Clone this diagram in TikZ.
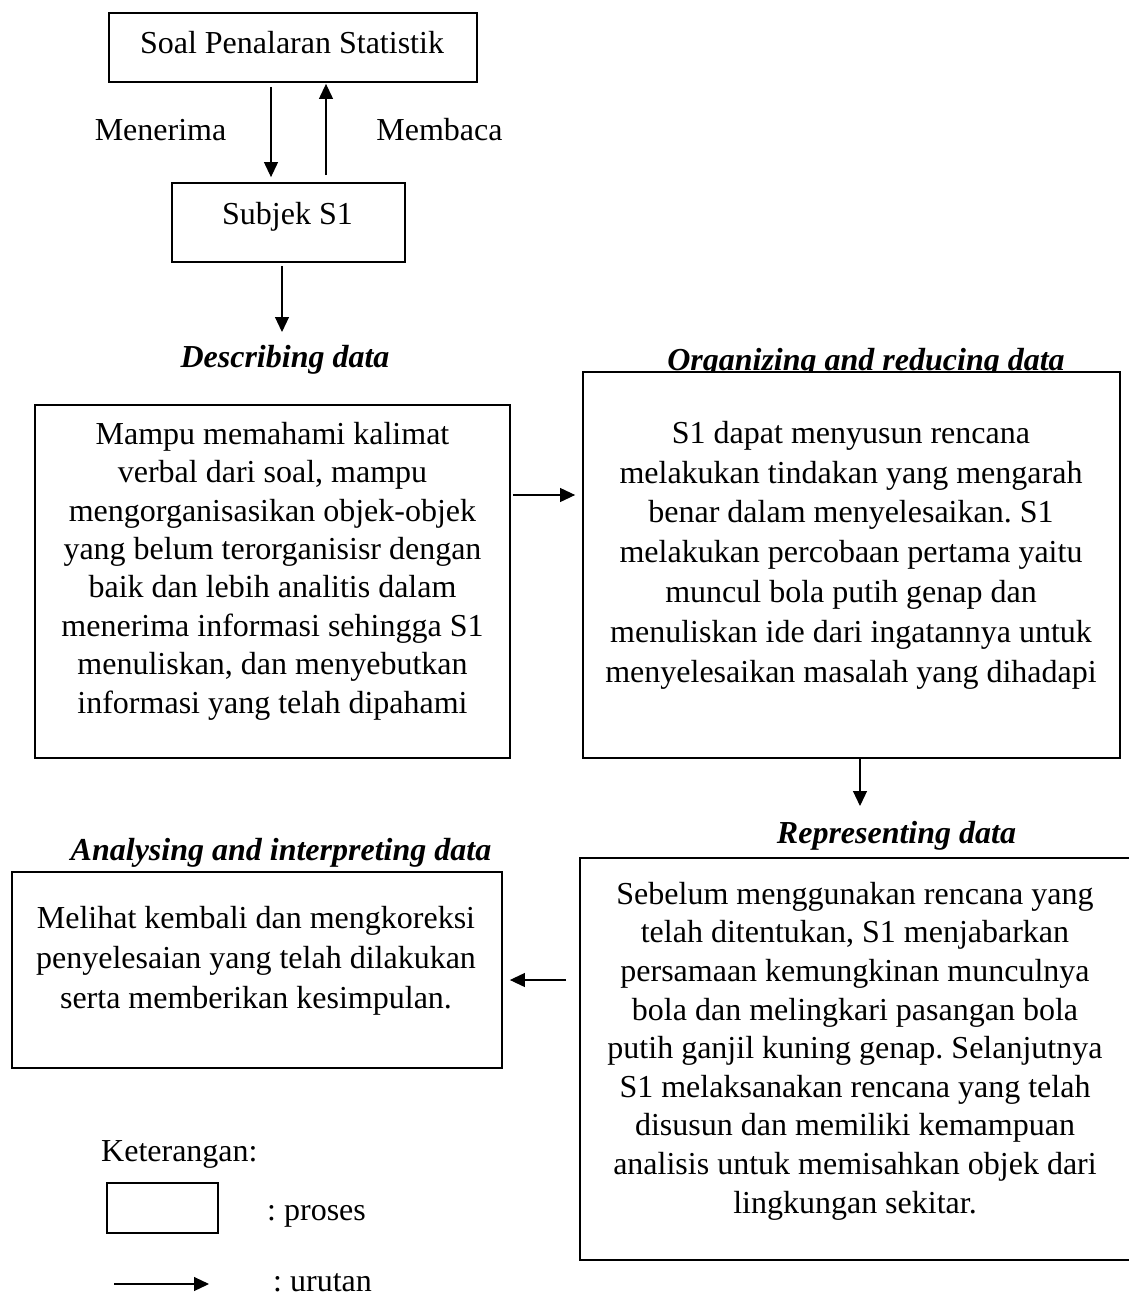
\documentclass[tikz,border=0pt]{standalone}
\usepackage{fontspec}
\setmainfont{Liberation Serif}
\usetikzlibrary{arrows.meta}
\frenchspacing
\begin{document}
\frenchspacing
\begin{tikzpicture}[x=1pt,y=-1pt,
  box/.style={draw, line width=1.8pt, inner sep=0pt, fill=white},
  txt/.style={inner sep=0pt, align=center, font=\fontsize{32}{38.5}\selectfont\frenchspacing},
  title/.style={inner sep=0pt, anchor=base, font=\fontsize{32}{38.5}\selectfont\bfseries\itshape},
  arr/.style={line width=1.1pt, -{Triangle[length=15pt,width=14pt]}}
]
\fill[white] (0,0) rectangle (1128,1298);
\useasboundingbox (0,0) rectangle (1128,1298);

% problem and subject
\node[box, minimum width=368pt, minimum height=69pt] (soal) at (293,47.2) {};
\node[txt, anchor=base] (soalt) at (292,53) {Soal Penalaran Statistik};
\node[box, minimum width=233pt, minimum height=79pt] (subj) at (288.5,222.5) {};
\node[txt, anchor=base] (subjt) at (287.5,224) {Subjek S1};
\node[txt, anchor=base] (menerima) at (160.5,140) {Menerima};
\node[txt, anchor=base] (membaca) at (439.5,140) {Membaca};

\draw[arr, shorten <=4.3pt, shorten >=5pt] ([xshift=-22pt]soal.south) -- ([xshift=-17.5pt]subj.north);
\draw[arr, shorten <=7pt, shorten >=1.3pt] ([xshift=37.5pt]subj.north) -- ([xshift=33pt]soal.south);
\coordinate (d1) at (282,332);
\draw[arr, shorten <=3pt] ([xshift=-6.5pt]subj.south) -- (d1);

% describing data
\node[title] (tdesc) at (285,367) {Describing data};
\node[box, minimum width=475pt, minimum height=353pt] (L) at (272.5,581.5) {};
\node[txt, font=\fontsize{32}{38.4}\selectfont\frenchspacing] (Lt) at (272.5,571) {Mampu memahami kalimat\\verbal dari soal, mampu\\mengorganisasikan objek-objek\\yang belum terorganisisr dengan\\baik dan lebih analitis dalam\\menerima informasi sehingga S1\\menuliskan, dan menyebutkan\\informasi yang telah dipahami};

% organizing and reducing data
\node[title] (torg) at (866,370) {Organizing and reducing data};
\node[box, minimum width=537pt, minimum height=386pt] (O) at (851.5,565) {};
\node[txt, font=\fontsize{32}{39.8}\selectfont\frenchspacing] (Ot) at (851,555) {S1 dapat menyusun rencana\\melakukan tindakan yang mengarah\\benar dalam menyelesaikan. S1\\melakukan percobaan pertama yaitu\\muncul bola putih genap dan\\menuliskan ide dari ingatannya untuk\\menyelesaikan masalah yang dihadapi};

\draw[arr, shorten <=2pt, shorten >=7pt] ([yshift=86.5pt]L.east) -- ([yshift=70pt]O.west);

% representing data
\coordinate (d2) at (860,806);
\draw[arr] ([xshift=8.5pt]O.south) -- (d2);
\node[title] (trep) at (896.5,843) {Representing data};
\node[box, minimum width=550pt, minimum height=402pt] (R) at (855,1059) {};
\node[txt, font=\fontsize{32}{38.6}\selectfont\frenchspacing] (Rt) at (855,1051) {Sebelum menggunakan rencana yang\\telah ditentukan, S1 menjabarkan\\persamaan kemungkinan munculnya\\bola dan melingkari pasangan bola\\putih ganjil kuning genap. Selanjutnya\\S1 melaksanakan rencana yang telah\\disusun dan memiliki kemampuan\\analisis untuk memisahkan objek dari\\lingkungan sekitar.};

% analysing and interpreting data
\node[title] (tana) at (281,860) {Analysing and interpreting data};
\node[box, minimum width=490pt, minimum height=196pt] (A) at (257,970) {};
\node[txt, font=\fontsize{32}{40}\selectfont\frenchspacing] (At) at (256,960.5) {Melihat kembali dan mengkoreksi\\penyelesaian yang telah dilakukan\\serta memberikan kesimpulan.};

\draw[arr, shorten <=13pt, shorten >=7pt] ([yshift=79pt]R.west) -- ([yshift=-10pt]A.east);

% legend
\node[txt, anchor=base west] (ket) at (101,1161) {Keterangan:};
\node[box, minimum width=111pt, minimum height=50pt] (legbox) at (162.5,1208) {};
\node[txt, anchor=base west] (lproses) at (267,1220) {: proses};
\coordinate (la) at (114,1284);
\coordinate (lb) at (209,1284);
\draw[arr] (la) -- (lb);
\node[txt, anchor=base west] (lurutan) at (273,1291) {: urutan};
\end{tikzpicture}
\end{document}
